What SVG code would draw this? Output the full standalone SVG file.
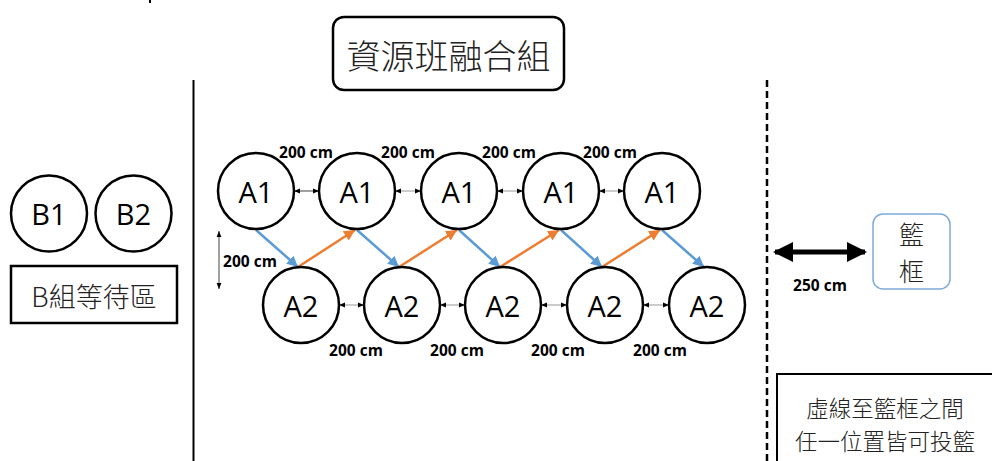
<svg xmlns="http://www.w3.org/2000/svg" width="992" height="461" viewBox="0 0 992 461">
<style>
.c{fill:#fff;stroke:#000;stroke-width:2.5}
.lbl{font-family:"Open Sans","Liberation Sans",sans-serif;font-size:29px;fill:#000;text-anchor:middle;dominant-baseline:central}
.cm{font-family:"Open Sans","Liberation Sans",sans-serif;font-size:15.5px;font-weight:bold;fill:#000;text-anchor:middle;dominant-baseline:central}
.zh{font-family:"Noto Sans CJK TC","Liberation Sans",sans-serif;fill:#222;text-anchor:middle;dominant-baseline:central;font-weight:300}
.blue{stroke:#5b9bd5;stroke-width:2.5;fill:none;marker-end:url(#hb)}
.orange{stroke:#ed7d31;stroke-width:2.5;fill:none;marker-end:url(#ho)}
.dim{stroke:#444;stroke-width:1;fill:none;marker-start:url(#hs);marker-end:url(#hs)}
.dim2{stroke:#999;stroke-width:1;fill:none;marker-start:url(#hs);marker-end:url(#hs)}
</style>
<defs>
<marker id="hb" viewBox="0 0 10 10" refX="10" refY="5" markerWidth="4.4" markerHeight="4.4" orient="auto"><path d="M0,0 L10,5 L0,10 z" fill="#5b9bd5"/></marker>
<marker id="ho" viewBox="0 0 10 10" refX="10" refY="5" markerWidth="4.4" markerHeight="4.4" orient="auto"><path d="M0,0 L10,5 L0,10 z" fill="#ed7d31"/></marker>
<marker id="hs" viewBox="0 0 10 10" refX="10" refY="5" markerWidth="6" markerHeight="6" orient="auto-start-reverse"><path d="M0,1 L10,5 L0,9 z" fill="#000"/></marker>
<marker id="hk" viewBox="0 0 10 10" refX="9" refY="5" markerWidth="4" markerHeight="4.4" orient="auto-start-reverse"><path d="M0,0 L10,5 L0,10 z" fill="#000"/></marker>
</defs>

<path d="M150,0 V3" stroke="#000" stroke-width="2"/>
<line x1="193.5" y1="80" x2="193.5" y2="461" stroke="#000" stroke-width="2"/>
<line x1="767" y1="80" x2="767" y2="461" stroke="#000" stroke-width="2.5" stroke-dasharray="7,4"/>

<g id="title">
<rect x="333" y="17" width="231" height="73" rx="11" fill="#fff" stroke="#000" stroke-width="2.5"/>
<text class="zh" x="448.5" y="54" font-size="34">資源班融合組</text>
</g>

<g id="B1"><circle class="c" cx="49" cy="213.5" r="38"/><text class="lbl" x="49" y="213.5">B1</text></g>
<g id="B2"><circle class="c" cx="133.5" cy="213.5" r="38"/><text class="lbl" x="133.5" y="213.5">B2</text></g>
<g id="Bwait">
<rect x="11" y="266" width="166" height="57" fill="#fff" stroke="#000" stroke-width="2.5"/>
<text class="zh" x="94" y="295" font-size="27">B組等待區</text>
</g>

<g id="connectors">
<line class="blue" x1="256" y1="230" x2="298" y2="267"/>
<line class="blue" x1="357" y1="230" x2="399" y2="267"/>
<line class="blue" x1="459" y1="230" x2="500" y2="267"/>
<line class="blue" x1="561" y1="230" x2="602" y2="267"/>
<line class="blue" x1="662" y1="230" x2="704" y2="267"/>
<line class="orange" x1="298" y1="267" x2="355" y2="230"/>
<line class="orange" x1="399" y1="267" x2="457" y2="230"/>
<line class="orange" x1="500" y1="267" x2="559" y2="230"/>
<line class="orange" x1="602" y1="267" x2="660" y2="230"/>
<line class="dim" x1="294" y1="191" x2="319" y2="191"/>
<line class="dim2" x1="395" y1="191" x2="421" y2="191"/>
<line class="dim2" x1="497" y1="191" x2="523" y2="191"/>
<line class="dim2" x1="599" y1="191" x2="624" y2="191"/>
<line class="dim2" x1="339" y1="305" x2="364" y2="305"/>
<line class="dim2" x1="440" y1="305" x2="465" y2="305"/>
<line class="dim2" x1="541" y1="305" x2="567" y2="305"/>
<line class="dim2" x1="643" y1="305" x2="669" y2="305"/>
<line class="dim" x1="219" y1="231" x2="219" y2="289"/>
<line x1="775" y1="252" x2="865" y2="252" stroke="#000" stroke-width="5" marker-start="url(#hk)" marker-end="url(#hk)"/>
</g>

<g id="A1-1"><circle class="c" cx="256" cy="191" r="38"/><text class="lbl" x="256" y="191">A1</text></g>
<g id="A1-2"><circle class="c" cx="357" cy="191" r="38"/><text class="lbl" x="357" y="191">A1</text></g>
<g id="A1-3"><circle class="c" cx="459" cy="191" r="38"/><text class="lbl" x="459" y="191">A1</text></g>
<g id="A1-4"><circle class="c" cx="561" cy="191" r="38"/><text class="lbl" x="561" y="191">A1</text></g>
<g id="A1-5"><circle class="c" cx="662" cy="191" r="38"/><text class="lbl" x="662" y="191">A1</text></g>

<g id="A2-1"><circle class="c" cx="301" cy="305" r="38"/><text class="lbl" x="301" y="305">A2</text></g>
<g id="A2-2"><circle class="c" cx="402" cy="305" r="38"/><text class="lbl" x="402" y="305">A2</text></g>
<g id="A2-3"><circle class="c" cx="503" cy="305" r="38"/><text class="lbl" x="503" y="305">A2</text></g>
<g id="A2-4"><circle class="c" cx="605" cy="305" r="38"/><text class="lbl" x="605" y="305">A2</text></g>
<g id="A2-5"><circle class="c" cx="707" cy="305" r="38"/><text class="lbl" x="707" y="305">A2</text></g>

<g id="dim-labels">
<text class="cm" x="306" y="152">200 cm</text>
<text class="cm" x="408" y="152">200 cm</text>
<text class="cm" x="509" y="152">200 cm</text>
<text class="cm" x="610" y="152">200 cm</text>
<text class="cm" x="356" y="350">200 cm</text>
<text class="cm" x="457" y="350">200 cm</text>
<text class="cm" x="558" y="350">200 cm</text>
<text class="cm" x="660" y="350">200 cm</text>
<text class="cm" x="250" y="261">200 cm</text>
<text class="cm" x="820" y="285">250 cm</text>
</g>

<g id="hoop">
<rect x="873" y="214" width="77" height="75" rx="10" fill="#fff" stroke="#7fa9db" stroke-width="1.5"/>
<text class="zh" x="911.5" y="233" font-size="25">籃</text>
<text class="zh" x="911.5" y="270" font-size="25">框</text>
</g>

<g id="note">
<rect x="777" y="374" width="220" height="95" fill="#fff" stroke="#000" stroke-width="2"/>
<text class="zh" x="885" y="407" font-size="22.5">虛線至籃框之間</text>
<text class="zh" x="885" y="440" font-size="22.5">任一位置皆可投籃</text>
</g>
</svg>
